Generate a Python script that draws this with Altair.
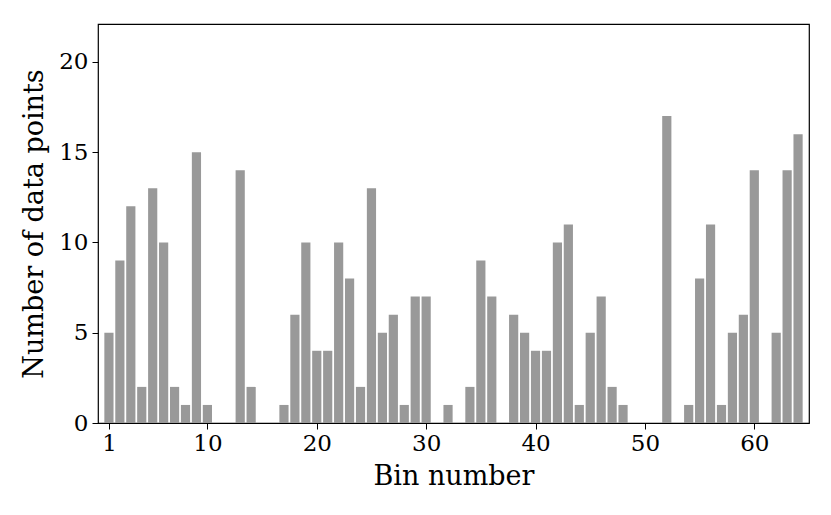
import altair as alt
import pandas as pd

bins = list(range(1, 65))
counts = [5, 9, 12, 2, 13, 10, 2, 1, 15, 1, 0, 0, 14, 2, 0, 0,
          1, 6, 10, 4, 4, 10, 8, 2, 13, 5, 6, 1, 7, 7, 0, 1,
          0, 2, 9, 7, 0, 6, 5, 4, 4, 10, 11, 1, 5, 7, 2, 1,
          0, 0, 0, 17, 0, 1, 8, 11, 1, 5, 6, 14, 0, 5, 14, 16]
x_ticks = [1, 10, 20, 30, 40, 50, 60]
y_ticks = [0, 5, 10, 15, 20]

df = pd.DataFrame({"bin": bins, "count": counts})
df["x0"] = df["bin"] - 0.42
df["x1"] = df["bin"] + 0.42
df["base"] = 0

FONT = "DejaVu Serif"

chart = alt.Chart(df).mark_bar(color="#999999").encode(
    x=alt.X("x0:Q", scale=alt.Scale(domain=[0, 65], nice=False, zero=False),
            axis=alt.Axis(values=x_ticks, title="Bin number", grid=False,
                          labelFontSize=23, titleFontSize=27, labelFont=FONT,
                          titleFont=FONT, titleFontWeight="normal",
                          labelColor="#000000", titleColor="#000000",
                          domain=False, tickColor="#000000", tickSize=6,
                          labelPadding=3, titlePadding=8)),
    x2="x1:Q",
    y=alt.Y("count:Q", scale=alt.Scale(domain=[0, 22.1], nice=False),
            axis=alt.Axis(values=y_ticks, title="Number of data points", grid=False,
                          labelFontSize=23, titleFontSize=27, labelFont=FONT,
                          titleFont=FONT, titleFontWeight="normal",
                          labelColor="#000000", titleColor="#000000",
                          domain=False, tickColor="#000000", tickSize=6,
                          labelPadding=4, titlePadding=10)),
    y2="base:Q",
).properties(
    width=711, height=399,
    autosize=alt.AutoSizeParams(type="none"),
    padding={"left": 90, "top": 16, "right": 10, "bottom": 85},
).configure(
    background="white",
    view=alt.ViewConfig(stroke="#000000", strokeWidth=1.2),
)

chart.save("out.html", embed_options={"renderer": "svg", "actions": False})
